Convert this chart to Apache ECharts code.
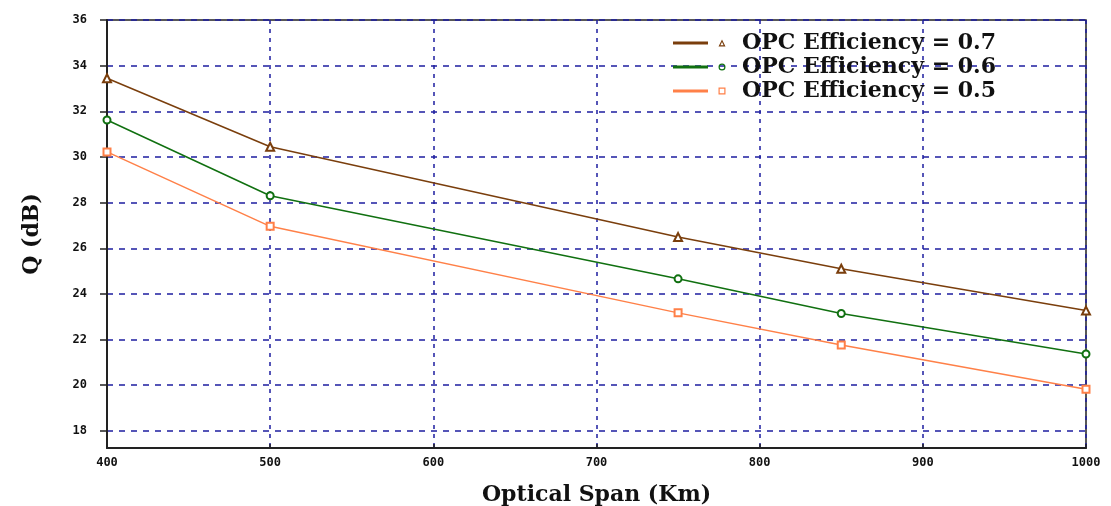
<!DOCTYPE html>
<html>
<head>
<meta charset="utf-8">
<script src="https://cdn.jsdelivr.net/npm/echarts@6/dist/echarts.min.js"></script>
<style>
  html, body { margin: 0; padding: 0; background: #fff; }
  #chart { width: 1111px; height: 506px; }
</style>
</head>
<body>
<div id="chart"></div>
<script>
// Optical span (km) and Q factor (dB) for three OPC efficiencies
const spans = [400, 500, 750, 850, 1000];
const qEff07 = [33.45, 30.45, 26.49, 25.10, 23.27];
const qEff06 = [31.62, 28.30, 24.66, 23.14, 21.37];
const qEff05 = [30.22, 26.96, 23.17, 21.76, 19.82];
const seriesNames = ['OPC Efficiency = 0.7', 'OPC Efficiency = 0.6', 'OPC Efficiency = 0.5'];

const colors = ['#7a3e0c', '#107010', '#ff8048'];
const gridBlue = '#1e1ea0';

// Legend icons: a short line followed by a hollow marker (holes use opposite winding)
const iconLine = 'M0 3.6 L35 3.6 L35 6.4 L0 6.4 Z ';
const iconEnd = ' M64 5 L64 5 Z';
const icons = [
  'path://' + iconLine + 'M49 1.5 L52.5 8.5 L45.5 8.5 Z M49 3.9 L47.4 7.3 L50.6 7.3 Z' + iconEnd,
  'path://' + iconLine + 'M45.5 5 A3.5 3.5 0 1 0 52.5 5 A3.5 3.5 0 1 0 45.5 5 Z M46.7 5 A2.3 2.3 0 1 1 51.3 5 A2.3 2.3 0 1 1 46.7 5 Z' + iconEnd,
  'path://' + iconLine + 'M45.5 1.5 L52.5 1.5 L52.5 8.5 L45.5 8.5 Z M46.7 2.7 L46.7 7.3 L51.3 7.3 L51.3 2.7 Z' + iconEnd
];
const symbols = ['emptyTriangle', 'emptyCircle', 'emptyRect'];
const values = [qEff07, qEff06, qEff05];

const chart = echarts.init(document.getElementById('chart'), null, { renderer: 'canvas' });

const tickFont = { fontFamily: 'DejaVu Sans Mono', fontWeight: 'bold', fontSize: 12, color: '#111' };

chart.setOption({
  backgroundColor: '#fff',
  animation: false,
  grid: {
    left: 107, right: 25, top: 20, bottom: 58,
    outerBoundsMode: 'none',
    show: true, borderColor: '#222', borderWidth: 1.5, backgroundColor: 'transparent'
  },
  legend: {
    left: 668, top: 26, orient: 'vertical',
    itemWidth: 64, itemHeight: 7, itemGap: 0,
    symbolKeepAspect: false,
    itemStyle: { borderWidth: 0 },
    textStyle: { fontFamily: 'DejaVu Serif', fontWeight: 'bold', fontSize: 22, color: '#111', lineHeight: 24 },
    data: seriesNames.map((n, i) => ({ name: n, icon: icons[i], itemStyle: { color: colors[i], borderWidth: 0 } }))
  },
  xAxis: {
    type: 'value', min: 400, max: 1000, interval: 100,
    name: 'Optical Span (Km)', nameLocation: 'middle', nameGap: 36,
    nameTextStyle: { fontFamily: 'DejaVu Serif', fontWeight: 'bold', fontSize: 22, color: '#111' },
    axisLine: { show: true, lineStyle: { color: '#222', width: 2 } },
    axisTick: { show: true, inside: true, length: 4, lineStyle: { color: '#222', width: 1.5 } },
    axisLabel: Object.assign({ margin: 9, formatter: v => String(v) }, tickFont),
    splitLine: { show: true, lineStyle: { color: gridBlue, width: 1.5, type: [4, 5] } }
  },
  yAxis: {
    type: 'value', min: 17.25, max: 36, splitNumber: 9, minInterval: 2, maxInterval: 2,
    name: 'Q (dB)', nameLocation: 'middle', nameGap: 64, nameRotate: 90,
    nameTextStyle: { fontFamily: 'DejaVu Serif', fontWeight: 'bold', fontSize: 22, color: '#111' },
    axisLine: { show: true, lineStyle: { color: '#222', width: 2 } },
    axisTick: { show: true, inside: false, length: 7, lineStyle: { color: '#222', width: 1.5 } },
    axisLabel: Object.assign({ margin: 20, showMinLabel: false }, tickFont),
    splitLine: { show: true, lineStyle: { color: gridBlue, width: 1.5, type: [6, 6] } }
  },
  series: seriesNames.map((n, i) => ({
    name: n,
    type: 'line',
    data: spans.map((x, j) => [x, values[i][j]]),
    symbol: symbols[i],
    symbolSize: i === 0 ? 8 : 7,
    showSymbol: true,
    clip: false,
    lineStyle: { color: colors[i], width: 1.5 },
    itemStyle: { color: colors[i], borderColor: colors[i], borderWidth: 1.2 },
    z: 3 + i
  }))
});
</script>
</body>
</html>
